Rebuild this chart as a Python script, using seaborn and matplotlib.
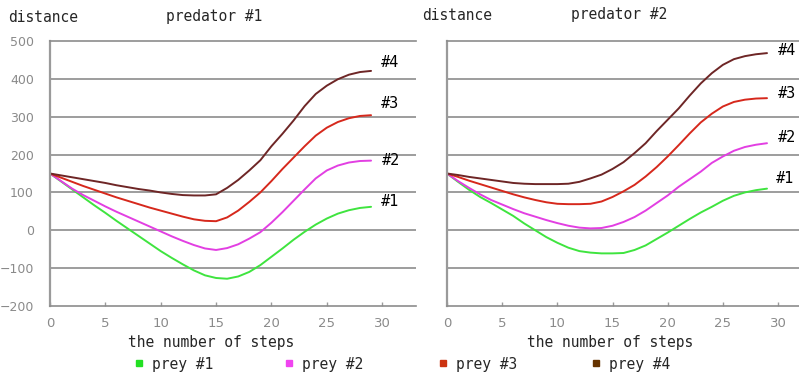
import matplotlib
matplotlib.use("Agg")
import matplotlib.pyplot as plt
from matplotlib.lines import Line2D
import pandas as pd
import seaborn as sns

# ---- data -------------------------------------------------------------
steps = list(range(30))
prey_names = ["prey #1", "prey #2", "prey #3", "prey #4"]
end_tags = ["#1", "#2", "#3", "#4"]
x_ticks = [0, 5, 10, 15, 20, 25, 30]
y_ticks = [-200, -100, 0, 100, 200, 300, 400, 500]

# predator #1
p1_prey1 = [150, 129, 108, 87, 66, 46, 25, 5, -15, -35, -55, -73, -90, -106, -119,
            -126, -128, -122, -110, -92, -70, -48, -25, -4, 15, 31, 44, 53, 59, 62]
p1_prey2 = [150, 130, 110, 93, 78, 63, 49, 36, 23, 10, -3, -16, -28, -39, -48,
            -52, -47, -37, -22, -5, 20, 48, 78, 108, 137, 158, 171, 179, 183, 184]
p1_prey3 = [150, 139, 128, 117, 107, 97, 87, 78, 69, 60, 52, 44, 36, 29, 25,
            24, 34, 52, 75, 100, 130, 162, 192, 222, 250, 271, 286, 296, 302, 304]
p1_prey4 = [150, 145, 140, 135, 130, 125, 119, 114, 109, 105, 100, 96, 93, 92, 92,
            95, 112, 133, 158, 185, 222, 255, 290, 328, 360, 382, 399, 411, 418, 421]

# predator #2
p2_prey1 = [150, 128, 107, 88, 72, 55, 38, 18, 0, -18, -33, -46, -55, -59, -61,
            -61, -60, -52, -40, -23, -6, 12, 30, 47, 62, 78, 91, 100, 106, 110]
p2_prey2 = [150, 130, 112, 95, 80, 68, 56, 45, 36, 27, 19, 12, 7, 5, 6,
            12, 22, 35, 52, 72, 92, 115, 135, 155, 178, 195, 210, 220, 226, 230]
p2_prey3 = [150, 141, 131, 122, 113, 104, 95, 87, 80, 74, 70, 69, 69, 70, 76,
            88, 103, 120, 142, 167, 195, 225, 256, 285, 308, 327, 339, 345, 348, 349]
p2_prey4 = [150, 146, 141, 137, 133, 129, 125, 123, 122, 122, 122, 123, 128, 137, 147,
            162, 180, 204, 230, 262, 292, 322, 356, 388, 415, 437, 452, 460, 465, 468]

predators = {
    "predator #1": [p1_prey1, p1_prey2, p1_prey3, p1_prey4],
    "predator #2": [p2_prey1, p2_prey2, p2_prey3, p2_prey4],
}

rows = []
for pred, series in predators.items():
    for name, vals in zip(prey_names, series):
        for s, v in zip(steps, vals):
            rows.append({"predator": pred, "prey": name, "step": s, "distance": v})
df = pd.DataFrame(rows)

# ---- style ------------------------------------------------------------
sns.set_theme(style="white")
plt.rcParams["font.family"] = ["DejaVu Sans"]
mono = "DejaVu Sans Mono"

line_colors = ["#3fe43f", "#e23fe2", "#d6281c", "#6e2626"]
key_colors = ["#22e022", "#f044f0", "#cc3311", "#663300"]
palette = dict(zip(prey_names, line_colors))
grid_c = "#8c8c8c"

W, H = 799, 378
fig = plt.figure(figsize=(W / 100, H / 100), dpi=100)
fig.patch.set_facecolor("white")

panels = [
    # name, left / right edge in px, x-limit right, show y labels
    ("predator #1", 50, 416, 33.06, True),
    ("predator #2", 447, 799, 31.9, False),
]
top_px, bot_px = 41, 306

# end-tag offsets in pixels (dx, dy)
tag_offsets = {
    "predator #1": [(19, 5), (20, 0), (19, 12), (19, 8)],
    "predator #2": [(18, 10), (20, 6), (20, 5), (20, 3)],
}

for pred, lpx, rpx, xmax, ylabels in panels:
    ax = fig.add_axes([lpx / W, 1 - bot_px / H, (rpx - lpx) / W, (bot_px - top_px) / H])
    sub = df[df["predator"] == pred]
    sns.lineplot(data=sub, x="step", y="distance", hue="prey", palette=palette,
                 linewidth=1.4, legend=False, ax=ax)
    ax.set_xlim(0, xmax)
    ax.set_ylim(-200, 500)
    ax.set_xticks(x_ticks)
    ax.set_yticks(y_ticks)
    for yv in y_ticks[1:-1]:
        ax.axhline(yv, color=grid_c, lw=1.2, zorder=0)
    ax.set_xlabel("")
    ax.set_ylabel("")
    ax.spines["right"].set_visible(False)
    ax.spines["top"].set_color(grid_c)
    ax.spines["top"].set_linewidth(1.2)
    ax.spines["left"].set_color("#9a9a9a")
    ax.spines["left"].set_linewidth(1.6)
    ax.spines["bottom"].set_color(grid_c)
    ax.spines["bottom"].set_linewidth(1.2)
    ax.tick_params(axis="x", direction="in", length=3, width=1, color="#9a9a9a",
                   labelsize=9.5, labelcolor="#8a8a8a", pad=8, bottom=True)
    ax.tick_params(axis="y", length=0, labelsize=9, labelcolor="#8a8a8a", pad=11.5,
                   labelleft=ylabels)

    for i, vals in enumerate(predators[pred]):
        dx, dy = tag_offsets[pred][i]
        ax.annotate(end_tags[i], xy=(steps[-1], vals[-1]), xytext=(dx * 0.72, dy * 0.72),
                    textcoords="offset points", ha="center", va="center",
                    fontsize=11, family=mono, color="black")

# headings and axis captions
fig.text(8 / W, 1 - 17 / H, "distance", ha="left", va="center", family=mono, fontsize=10.5)
fig.text(214 / W, 1 - 17 / H, "predator #1", ha="center", va="center", family=mono, fontsize=10.5)
fig.text(422 / W, 1 - 15 / H, "distance", ha="left", va="center", family=mono, fontsize=10.5)
fig.text(619 / W, 1 - 15 / H, "predator #2", ha="center", va="center", family=mono, fontsize=10.5)
fig.text(211 / W, 1 - 342 / H, "the number of steps", ha="center", va="center",
         family=mono, fontsize=10.5)
fig.text(610 / W, 1 - 343 / H, "the number of steps", ha="center", va="center",
         family=mono, fontsize=10.5)

# colour key: one entry per prey, spread along the bottom
key_x = [134, 284, 438, 591]
for name, c, kx in zip(prey_names, key_colors, key_x):
    h = Line2D([], [], ls="none", marker="s", markersize=5, color=c)
    fig.legend([h], [name], loc="center left", bbox_to_anchor=(kx / W, 1 - 364 / H),
               frameon=False, borderpad=0, borderaxespad=0, handlelength=0.75,
               handletextpad=0.48, prop={"family": mono, "size": 10.5})

fig.savefig("out.png", dpi=100, facecolor="white")
